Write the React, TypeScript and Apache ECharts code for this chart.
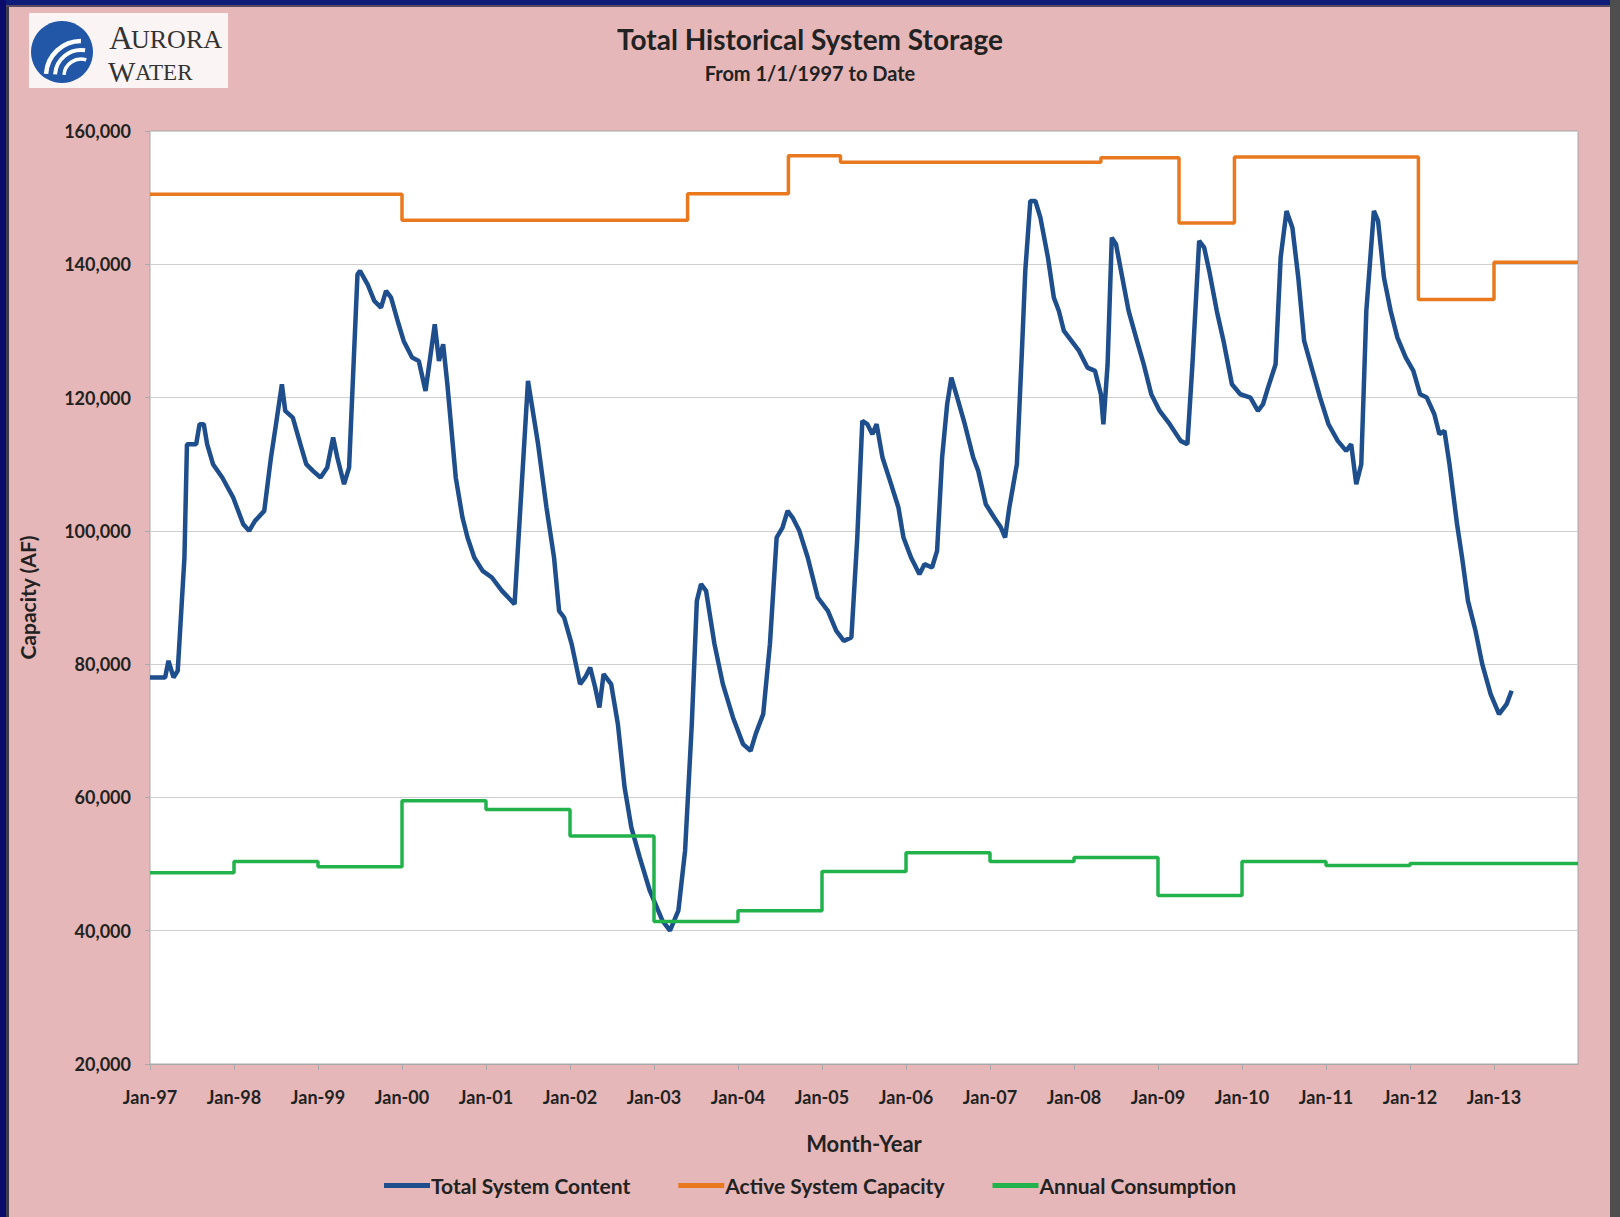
import React, { useEffect, useRef } from "react";
import * as echarts from "echarts";

const contentYears = [
  1997.0, 1997.18, 1997.22, 1997.28, 1997.33, 1997.41, 1997.44, 1997.49, 1997.55, 1997.59, 1997.64, 1997.68, 1997.75, 1997.86, 1997.99,
  1998.11, 1998.18, 1998.25, 1998.36, 1998.44, 1998.5, 1998.57, 1998.61, 1998.7, 1998.79, 1998.86, 1998.94,
  1999.03, 1999.11, 1999.18, 1999.23, 1999.31, 1999.37, 1999.47, 1999.5, 1999.59, 1999.67, 1999.75, 1999.81, 1999.87, 1999.96,
  2000.02, 2000.12, 2000.2, 2000.28, 2000.33, 2000.39, 2000.44, 2000.49, 2000.54, 2000.64, 2000.72, 2000.78, 2000.86, 2000.96,
  2001.07, 2001.19, 2001.34, 2001.5, 2001.62, 2001.72, 2001.81, 2001.87, 2001.93,
  2002.02, 2002.12, 2002.18, 2002.24, 2002.3, 2002.35, 2002.4, 2002.49, 2002.57, 2002.65, 2002.73, 2002.83, 2002.95,
  2003.1, 2003.19, 2003.29, 2003.37, 2003.45, 2003.51, 2003.56, 2003.62, 2003.72, 2003.82, 2003.94,
  2004.06, 2004.15, 2004.21, 2004.3, 2004.38, 2004.46, 2004.53, 2004.59, 2004.65, 2004.73, 2004.83, 2004.95,
  2005.07, 2005.17, 2005.26, 2005.35, 2005.42, 2005.48, 2005.54, 2005.6, 2005.65, 2005.72, 2005.81, 2005.91, 2005.97,
  2006.06, 2006.16, 2006.22, 2006.31, 2006.37, 2006.43, 2006.49, 2006.54, 2006.61, 2006.7, 2006.8, 2006.86, 2006.95,
  2007.05, 2007.13, 2007.18, 2007.23, 2007.32, 2007.38, 2007.42, 2007.48, 2007.54, 2007.6, 2007.69, 2007.76, 2007.82, 2007.88, 2007.97,
  2008.06, 2008.16, 2008.25, 2008.32, 2008.35, 2008.4, 2008.45, 2008.5, 2008.56, 2008.65, 2008.75, 2008.83, 2008.92,
  2009.02, 2009.14, 2009.27, 2009.35, 2009.41, 2009.49, 2009.55, 2009.61, 2009.7, 2009.78, 2009.88, 2009.98,
  2010.1, 2010.19, 2010.25, 2010.31, 2010.4, 2010.46, 2010.53, 2010.6, 2010.67, 2010.74, 2010.84, 2010.93,
  2011.03, 2011.14, 2011.24, 2011.3, 2011.36, 2011.42, 2011.48, 2011.57, 2011.62, 2011.69, 2011.77, 2011.85, 2011.95,
  2012.04, 2012.12, 2012.2, 2012.29, 2012.35, 2012.41, 2012.47, 2012.56, 2012.62, 2012.69, 2012.78, 2012.86, 2012.96,
  2013.06, 2013.15, 2013.21,
];

const contentValues = [
  78000, 78000, 80500, 78000, 79000, 96000, 113000, 113000, 113000, 116000, 116000, 113000, 110000, 108000, 105000,
  101000, 100000, 101500, 103000, 111000, 116000, 122000, 118000, 117000, 113000, 110000, 109000,
  108000, 109500, 114000, 111000, 107000, 109500, 138500, 139000, 137000, 134500, 133500, 136000, 135000, 131000,
  128500, 126000, 125500, 121000, 125500, 131000, 125500, 128000, 122000, 108000, 102000, 99000, 96000, 94000,
  93000, 91000, 89000, 122500, 113000, 103500, 96000, 88000, 87000,
  83000, 77000, 78000, 79500, 76500, 73500, 78500, 77000, 71000, 61500, 55500, 51000, 46000,
  41500, 40000, 43000, 52000, 71000, 89500, 92000, 91000, 83000, 77000, 72000,
  68000, 67000, 69500, 72500, 83000, 99000, 100500, 103000, 102000, 100000, 96000, 90000,
  88000, 85000, 83500, 84000, 99000, 116500, 116000, 114500, 116000, 111000, 107500, 103500, 99000,
  96000, 93500, 95000, 94500, 97000, 111000, 119000, 123000, 120000, 116000, 111000, 109000, 104000,
  102000, 100500, 99000, 103500, 110000, 127000, 139000, 149500, 149500, 147000, 141000, 135000, 133000, 130000, 128500,
  127000, 124500, 124000, 120500, 116000, 125000, 144000, 143000, 139000, 133000, 128500, 125000, 120500,
  118000, 116000, 113500, 113000, 125000, 143500, 142500, 139000, 133000, 128500, 122000, 120500,
  120000, 118000, 119000, 121500, 125000, 141000, 148000, 145500, 138000, 128500, 124000, 120000,
  116000, 113500, 112000, 113000, 107000, 110000, 133000, 148000, 146500, 138000, 133000, 129000, 126000,
  124000, 120500, 120000, 117500, 114500, 115000, 110000, 101000, 96000, 89500, 85000, 80000, 75500,
  72500, 74000, 76000,
];

const capacityStarts = [1997.0, 2000.0, 2003.4, 2004.6, 2005.22, 2008.32, 2009.25, 2009.91, 2012.1, 2013.0, 2014.0];
const capacityValues = [150500, 146600, 150600, 156300, 155300, 156000, 146200, 156100, 134700, 140300, 140300];

const consumptionStarts = [1997, 1998, 1999, 2000, 2001, 2002, 2003, 2004, 2005, 2006, 2007, 2008, 2009, 2010, 2011, 2012, 2014];
const consumptionValues = [48700, 50400, 49600, 59500, 58200, 54200, 41400, 43000, 48900, 51700, 50400, 51000, 45300, 50400, 49800, 50100, 50100];

const yTicks = [20000, 40000, 60000, 80000, 100000, 120000, 140000, 160000];
const seriesNames = ["Total System Content", "Active System Capacity", "Annual Consumption"];

const FONT = "Lato, 'Open Sans', sans-serif";

export default function App() {
  const ref = useRef<HTMLDivElement>(null);

  useEffect(() => {
    document.body.style.margin = "0";
    if (!ref.current) return;
    const chart = echarts.init(ref.current, undefined, { renderer: "svg" });

    const pair = (xs: number[], vs: number[]) => xs.map((x, i) => [x, vs[i]]);

    const option: any = {
      animation: false,
      backgroundColor: "#E5B7B8",
      title: [
        {
          text: "Total Historical System Storage",
          left: "center",
          top: 20,
          textStyle: { fontFamily: FONT, fontSize: 28, fontWeight: "bold", color: "#222" },
        },
        {
          text: "From 1/1/1997 to Date",
          left: "center",
          top: 58,
          textStyle: { fontFamily: FONT, fontSize: 20, fontWeight: "bold", color: "#222" },
        },
      ],
      grid: {
        left: 150,
        right: 42,
        top: 131,
        bottom: 153,
        show: true,
        backgroundColor: "#ffffff",
        borderColor: "#a8a8a8",
        borderWidth: 1,
      },
      legend: {
        top: 1170,
        left: "center",
        icon: "rect",
        itemWidth: 46,
        itemHeight: 5,
        itemGap: 48,
        data: seriesNames,
        textStyle: { fontFamily: FONT, fontSize: 21, fontWeight: "bold", color: "#222", padding: [0, 0, 0, -4] },
      },
      xAxis: {
        type: "value",
        min: 1997,
        max: 2014,
        interval: 1,
        name: "Month-Year",
        nameLocation: "middle",
        nameGap: 68,
        nameTextStyle: { fontFamily: FONT, fontSize: 22, fontWeight: "bold", color: "#222" },
        axisLine: { show: true, lineStyle: { color: "#a8a8a8", width: 1 } },
        axisTick: { show: true, length: 6, lineStyle: { color: "#a8a8a8" } },
        splitLine: { show: false },
        axisLabel: {
          margin: 24,
          showMaxLabel: false,
          fontFamily: FONT,
          fontSize: 18,
          fontWeight: "bold",
          color: "#222",
          formatter: (v: number) => "Jan-" + String(Math.round(v)).slice(2),
        },
      },
      yAxis: {
        type: "value",
        min: 20000,
        max: 160000,
        interval: 20000,
        name: "Capacity (AF)",
        nameLocation: "middle",
        nameRotate: 90,
        nameGap: 112,
        nameTextStyle: { fontFamily: FONT, fontSize: 21, fontWeight: "bold", color: "#222" },
        axisLine: { show: false },
        axisTick: { show: true, length: 5, lineStyle: { color: "#a8a8a8" } },
        splitLine: { show: true, lineStyle: { color: "#cfcfcf", width: 1 } },
        axisLabel: {
          margin: 19,
          fontFamily: FONT,
          fontSize: 18,
          fontWeight: "bold",
          color: "#222",
          customValues: yTicks,
          formatter: (v: number) => v.toLocaleString("en-US"),
        },
      },
      series: [
        {
          name: seriesNames[0],
          type: "line",
          data: pair(contentYears, contentValues),
          showSymbol: false,
          lineStyle: { color: "#1F4E8C", width: 4.5 },
          itemStyle: { color: "#1F4E8C" },
          z: 3,
        },
        {
          name: seriesNames[1],
          type: "line",
          step: "end",
          data: pair(capacityStarts, capacityValues),
          showSymbol: false,
          lineStyle: { color: "#E8791F", width: 3.5 },
          itemStyle: { color: "#E8791F" },
          z: 2,
        },
        {
          name: seriesNames[2],
          type: "line",
          step: "end",
          data: pair(consumptionStarts, consumptionValues),
          showSymbol: false,
          lineStyle: { color: "#22B24C", width: 3.5 },
          itemStyle: { color: "#22B24C" },
          z: 4,
        },
      ],
      graphic: [
        { type: "rect", shape: { x: 0, y: 0, width: 1620, height: 5 }, style: { fill: "#101C7A" }, z: 100 },
        { type: "rect", shape: { x: 0, y: 0, width: 6, height: 1217 }, style: { fill: "#0B0B6C" }, z: 100 },
        { type: "rect", shape: { x: 6, y: 5, width: 3, height: 1212 }, style: { fill: "#3c3c48" }, z: 100 },
        { type: "rect", shape: { x: 6, y: 5, width: 1604, height: 2 }, style: { fill: "#5a4a60" }, z: 100 },
        { type: "rect", shape: { x: 1610, y: 0, width: 10, height: 1217 }, style: { fill: "#4e4e4e" }, z: 100 },
        {
          type: "group",
          x: 29,
          y: 13,
          z: 100,
          children: [
            { type: "rect", shape: { x: 0, y: 0, width: 199, height: 75 }, style: { fill: "#FBF4F4" } },
            { type: "circle", shape: { cx: 33, cy: 39, r: 31 }, style: { fill: "#2157A6" } },
            {
              type: "arc",
              shape: { cx: 52, cy: 63, r: 35, startAngle: Math.PI * 1.02, endAngle: Math.PI * 1.5, clockwise: true },
              style: { stroke: "#ffffff", lineWidth: 4.5, fill: "none" },
            },
            {
              type: "arc",
              shape: { cx: 52, cy: 63, r: 26, startAngle: Math.PI * 1.02, endAngle: Math.PI * 1.55, clockwise: true },
              style: { stroke: "#ffffff", lineWidth: 4, fill: "none" },
            },
            {
              type: "arc",
              shape: { cx: 52, cy: 63, r: 17, startAngle: Math.PI * 1.02, endAngle: Math.PI * 1.6, clockwise: true },
              style: { stroke: "#ffffff", lineWidth: 3.5, fill: "none" },
            },
            {
              type: "text",
              x: 80,
              y: 41,
              style: { text: "A", fontFamily: "'Liberation Serif', serif", fontSize: 33, fill: "#333333", verticalAlign: "bottom" },
            },
            {
              type: "text",
              x: 102,
              y: 39,
              style: { text: "URORA", fontFamily: "'Liberation Serif', serif", fontSize: 26, fill: "#333333", verticalAlign: "bottom" },
            },
            {
              type: "text",
              x: 79,
              y: 73,
              style: { text: "W", fontFamily: "'Liberation Serif', serif", fontSize: 29, fill: "#333333", verticalAlign: "bottom" },
            },
            {
              type: "text",
              x: 106,
              y: 71,
              style: { text: "ATER", fontFamily: "'Liberation Serif', serif", fontSize: 23, fill: "#333333", verticalAlign: "bottom" },
            },
          ],
        },
      ],
    };

    chart.setOption(option);
    return () => chart.dispose();
  }, []);

  return <div ref={ref} style={{ width: 1620, height: 1217 }} />;
}
